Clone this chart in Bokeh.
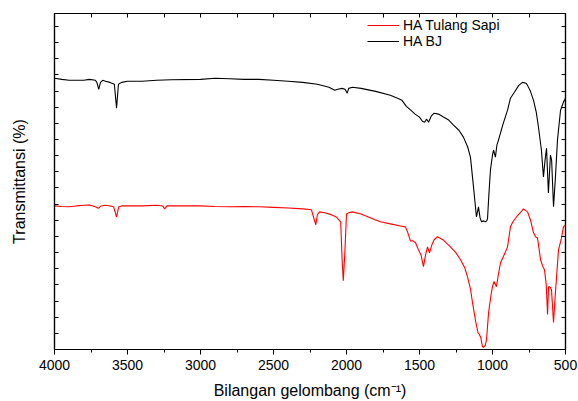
from bokeh.plotting import figure
from bokeh.models import (LinearAxis, FixedTicker, Range1d, Legend, LegendItem,
                          CustomJSTickFormatter, ColumnDataSource)
from bokeh.embed import file_html
from bokeh.resources import INLINE

# ---- data (wavenumber cm^-1, transmittance in arbitrary offset units) ----
bj_wn = [4000, 3950, 3900, 3850, 3800, 3760, 3720, 3710, 3697, 3685, 3670, 3650, 3620,
         3590, 3575, 3562, 3540, 3500, 3400, 3300, 3200, 3000, 2900, 2800, 2700, 2600,
         2500, 2400, 2300, 2200, 2120, 2080, 2060, 2030, 2010, 1995, 1985, 1960, 1900,
         1800, 1700, 1650, 1620, 1590, 1560, 1530, 1500, 1480, 1465, 1452, 1438, 1420,
         1400, 1370, 1336, 1300, 1267, 1230, 1199, 1170, 1151, 1130, 1110, 1096, 1085,
         1075, 1060, 1048, 1040, 1034, 1025, 1014, 1000, 993, 980, 970, 959, 930, 897,
         877, 850, 820, 795, 770, 760, 740, 719, 700, 685, 665, 651, 640, 630, 617, 603,
         595, 582, 570, 555, 534, 514, 500]
bj_t = [90.7, 90.3, 90.0, 90.0, 90.0, 90.3, 90.0, 89.3, 87.0, 89.3, 90.0, 89.7, 89.3,
        88.7, 80.7, 88.7, 89.3, 89.7, 89.7, 90.0, 90.2, 90.3, 90.7, 90.5, 90.3, 90.3,
        90.0, 89.7, 89.3, 88.7, 87.7, 86.7, 87.0, 87.3, 87.0, 85.7, 87.3, 87.7, 87.3,
        86.3, 85.0, 84.0, 83.3, 81.3, 80.0, 78.7, 77.7, 76.3, 76.0, 77.0, 76.0, 78.0,
        79.0, 78.7, 77.7, 76.7, 75.0, 73.3, 71.0, 67.7, 64.3, 54.3, 44.3, 47.7, 44.0,
        42.7, 43.0, 42.7, 43.0, 43.7, 51.7, 60.0, 65.0, 66.7, 64.3, 68.3, 70.0, 75.0, 80.0,
        84.0, 86.0, 88.3, 89.3, 89.0, 88.3, 86.3, 83.3, 79.3, 74.3, 66.7, 57.7, 63.3, 67.3,
        52.3, 65.0, 63.3, 47.7, 56.7, 70.0, 80.0, 82.7, 84.0]

ts_wn = [4000, 3950, 3900, 3850, 3800, 3760, 3720, 3700, 3680, 3650, 3620, 3595, 3575,
         3560, 3540, 3500, 3400, 3300, 3260, 3245, 3230, 3100, 3000, 2900, 2800, 2700,
         2600, 2500, 2400, 2300, 2240, 2220, 2210, 2200, 2185, 2150, 2100, 2070, 2040,
         2030, 2022, 2012, 2000, 1985, 1960, 1900, 1850, 1800, 1767, 1700, 1630, 1596,
         1582, 1562, 1545, 1527, 1507, 1490, 1473, 1458, 1445, 1432, 1415, 1400, 1377,
         1340, 1288, 1250, 1219, 1190, 1171, 1150, 1137, 1115, 1100, 1090, 1080, 1069,
         1062, 1050, 1041, 1027, 1010, 1000, 990, 980, 973, 960, 945, 920, 897, 877, 860,
         830, 800, 788, 760, 740, 719, 705, 692, 680, 671, 655, 644, 632, 623, 616, 610,
         603, 596, 582, 569, 548, 530, 514, 500]
ts_t = [48.0, 47.8, 47.7, 48.0, 48.2, 48.3, 47.7, 47.2, 48.0, 48.2, 48.0, 47.7, 44.3,
        47.7, 48.0, 48.0, 48.0, 48.2, 48.0, 47.0, 48.0, 48.0, 48.0, 47.8, 47.7, 47.8,
        47.7, 47.5, 47.3, 47.0, 46.7, 43.3, 41.7, 45.0, 46.0, 45.7, 45.0, 44.3, 42.7,
        30.0, 23.0, 31.7, 45.3, 45.7, 46.0, 45.3, 44.3, 43.3, 42.7, 42.0, 41.3, 41.0,
        39.3, 36.3, 36.3, 35.7, 33.3, 31.7, 27.7, 31.7, 34.3, 32.3, 35.0, 36.7, 37.7,
        36.7, 34.3, 32.3, 30.0, 27.3, 24.3, 20.0, 15.7, 9.3, 5.7, 5.0, 4.0, 1.0,
        0.7, 1.3, 3.3, 12.3, 18.3, 21.0, 22.7, 21.7, 21.0, 25.0, 29.0, 31.7, 34.3, 41.0, 42.7,
        44.7, 46.3, 47.0, 46.0, 43.3, 39.0, 37.7, 37.3, 33.3, 30.0, 27.7, 26.7, 21.7, 11.7, 21.0, 21.0,
        20.7, 20.0, 9.0, 19.0, 33.3, 36.7, 41.0, 41.7]

x_major = [4000, 3500, 3000, 2500, 2000, 1500, 1000, 500]
x_minor = [3750, 3250, 2750, 2250, 1750, 1250, 750]
y_ticks = [round(5.4 * i, 2) for i in range(21)]

series_labels = ["HA Tulang Sapi", "HA BJ"]
x_title = "Bilangan gelombang (cm⁻¹)"
y_title = "Transmittansi (%)"

FONT = "Liberation Sans"

p = figure(width=578, height=401, output_backend="svg", toolbar_location=None,
           x_range=Range1d(4000, 500), y_range=Range1d(0, 112.33),
           min_border_left=54, min_border_right=13, min_border_top=13, min_border_bottom=51)
p.xgrid.visible = False
p.ygrid.visible = False
p.outline_line_color = "black"
p.outline_line_width = 1.2
p.background_fill_color = "white"
p.border_fill_color = "white"

empty = CustomJSTickFormatter(code="return '';")

# bottom axis
xa = p.xaxis[0]
xa.ticker = FixedTicker(ticks=x_major, minor_ticks=x_minor)
xa.major_tick_out = 5
xa.major_tick_in = 0
xa.minor_tick_out = 3
xa.minor_tick_in = 0
xa.major_label_standoff = 5
xa.major_label_text_font = FONT
xa.major_label_text_font_size = "14px"
xa.major_label_text_color = "black"
xa.axis_label = x_title
xa.axis_label_text_font = FONT
xa.axis_label_text_font_style = "normal"
xa.axis_label_text_font_size = "16px"
xa.axis_label_text_color = "black"
xa.axis_label_standoff = 9
xa.axis_line_color = "black"
xa.axis_line_width = 1.2

# left axis
ya = p.yaxis[0]
ya.ticker = FixedTicker(ticks=y_ticks, minor_ticks=[])
ya.formatter = empty
ya.major_tick_in = 4
ya.major_tick_out = 0
ya.minor_tick_in = 0
ya.minor_tick_out = 0
ya.major_label_standoff = 0
ya.axis_label = y_title
ya.axis_label_text_font = FONT
ya.axis_label_text_font_style = "normal"
ya.axis_label_text_font_size = "16px"
ya.axis_label_text_color = "black"
ya.axis_label_standoff = 27
ya.axis_line_color = "black"
ya.axis_line_width = 1.2

# top axis
ta = LinearAxis(ticker=FixedTicker(ticks=x_major + x_minor, minor_ticks=[]),
                formatter=empty, major_tick_in=4, major_tick_out=0,
                minor_tick_in=0, minor_tick_out=0, major_label_standoff=0,
                axis_line_color="black", axis_line_width=1.2)
p.add_layout(ta, "above")

# right axis
ra = LinearAxis(ticker=FixedTicker(ticks=y_ticks, minor_ticks=[]),
                formatter=empty, major_tick_in=4, major_tick_out=0,
                minor_tick_in=0, minor_tick_out=0, major_label_standoff=0,
                axis_line_color="black", axis_line_width=1.2)
p.add_layout(ra, "right")

src_ts = ColumnDataSource(dict(x=ts_wn, y=ts_t))
src_bj = ColumnDataSource(dict(x=bj_wn, y=bj_t))
r_ts = p.line("x", "y", source=src_ts, line_color="#ff0000", line_width=1.1)
r_bj = p.line("x", "y", source=src_bj, line_color="black", line_width=1.1)

legend = Legend(items=[LegendItem(label=series_labels[0], renderers=[r_ts]),
                       LegendItem(label=series_labels[1], renderers=[r_bj])],
                location=(313, 300), border_line_color=None, background_fill_alpha=0,
                padding=0, margin=0, spacing=0, glyph_width=32, glyph_height=14,
                label_height=14, label_standoff=4, label_text_font=FONT,
                label_text_font_size="14px", label_text_color="black")
p.add_layout(legend)

open("out.html", "w").write(file_html(p, INLINE))
